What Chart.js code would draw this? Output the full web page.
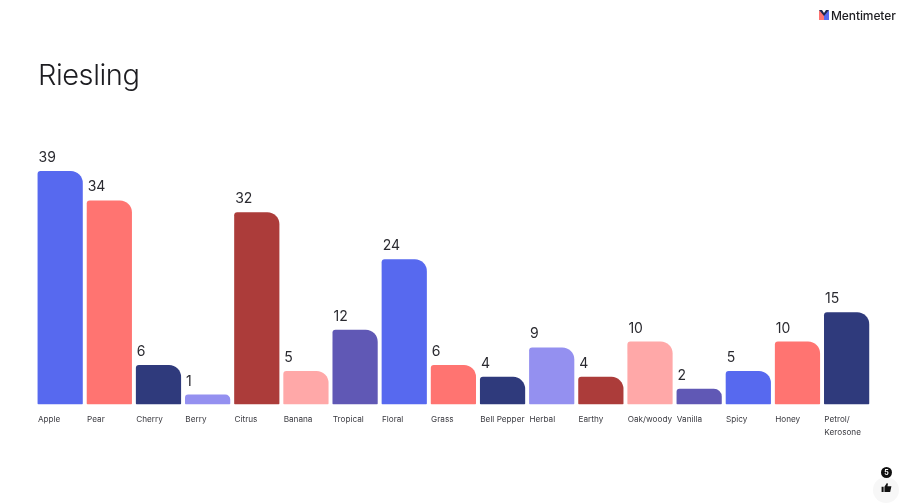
<!DOCTYPE html>
<html>
<head>
<meta charset="utf-8">
<title>Riesling</title>
<script src="https://cdn.jsdelivr.net/npm/chart.js@4/dist/chart.umd.min.js"></script>
<style>
  html, body { margin: 0; padding: 0; background: #fff; width: 906px; height: 504px; overflow: hidden; }
  body { position: relative; font-family: Inter, sans-serif; color: #1d1d21; }
  #wrap { position: absolute; left: 0; top: 0; width: 906px; height: 504px; }
  h1 { position: absolute; left: 38px; top: 56px; margin: 0; font: 300 29px/38px Inter, sans-serif; letter-spacing: -0.45px; }
  #brand { position: absolute; left: 831px; top: 7.5px; font: 500 12px/15px Inter, sans-serif; letter-spacing: -0.1px; }
  #logo { position: absolute; left: 819px; top: 10px; }
  #likes { position: absolute; left: 881px; top: 466.5px; width: 11px; height: 11px; border-radius: 50%; background: #111; color: #fff; font: 700 7px/11px Inter, sans-serif; text-align: center; }
  #thumbBg { position: absolute; left: 873px; top: 477px; width: 26px; height: 26px; border-radius: 50%; background: #f7f7f7; }
  #thumb { position: absolute; left: 881px; top: 483px; }
</style>
</head>
<body>
<div id="wrap"><canvas id="chart"></canvas></div>
<h1>Riesling</h1>
<svg id="logo" width="10" height="10" viewBox="0 0 10 10">
  <path d="M0 0 L5 5 L5 10 L0 10 Z" fill="#ff7471"/>
  <path d="M10 0 L5 5 L5 10 L10 10 Z" fill="#5769ef"/>
  <path d="M0 0 L3 0 L5 3 L7 0 L10 0 L5 6 Z" fill="#1f2550"/>
</svg>
<div id="brand">Mentimeter</div>
<div id="thumbBg"></div>
<div id="likes">5</div>
<svg id="thumb" width="11" height="9" viewBox="0 0 12 11">
  <path d="M0 4.5 H2.5 V11 H0 Z M3.5 4.5 L6.5 0 L7.8 1 L7.2 4 H12 L10.5 11 H3.5 Z" fill="#111"/>
</svg>
<script>
const categories = ['Apple', 'Pear', 'Cherry', 'Berry', 'Citrus', 'Banana', 'Tropical', 'Floral', 'Grass',
  'Bell Pepper', 'Herbal', 'Earthy', 'Oak/woody', 'Vanilla', 'Spicy', 'Honey', ['Petrol/', 'Kerosone']];
const votes = [39, 34, 6, 1, 32, 5, 12, 24, 6, 4, 9, 4, 10, 2, 5, 10, 15];
const palette = ['#5769ef', '#ff7471', '#2f3a7c', '#9490f0', '#ac3c3a', '#ffa8a8', '#6058b5'];

// value labels sit above the left edge of each bar
const valueLabels = {
  id: 'valueLabels',
  afterDatasetsDraw(chart) {
    const ctx = chart.ctx;
    ctx.save();
    ctx.font = '14px Inter, sans-serif';
    ctx.fillStyle = '#2a2a30';
    ctx.textAlign = 'left';
    ctx.textBaseline = 'alphabetic';
    chart.getDatasetMeta(0).data.forEach((bar, i) => {
      ctx.fillText(votes[i], bar.x - bar.width / 2 + 1, bar.y - 9);
    });
    ctx.restore();
  }
};

new Chart(document.getElementById('chart'), {
  type: 'bar',
  data: {
    labels: categories,
    datasets: [{
      data: votes,
      base: -0.7, // bars start a little below zero so a single vote still shows
      backgroundColor: votes.map((v, i) => palette[i % palette.length]),
      borderRadius: { topLeft: 3, topRight: 12, bottomLeft: 1, bottomRight: 1 },
      borderSkipped: false,
      barPercentage: 0.92,
      categoryPercentage: 1
    }]
  },
  options: {
    responsive: true,
    maintainAspectRatio: false,
    animation: false,
    layout: { padding: { left: 35.6, right: 34.8, top: 165.2, bottom: 39.5 } },
    plugins: { legend: { display: false }, tooltip: { enabled: false }, title: { display: false } },
    scales: {
      x: {
        grid: { display: false },
        border: { display: false },
        afterFit(scale) { scale.height = 60; },
        ticks: {
          align: 'start',
          labelOffset: -22.3,
          maxRotation: 0,
          autoSkip: false,
          padding: 1,
          color: '#3a3a40',
          font: { family: 'Inter, sans-serif', size: 8.2, lineHeight: 1.55 }
        }
      },
      y: { display: false, min: -0.7, max: 40 }
    }
  },
  plugins: [valueLabels]
});
</script>
</body>
</html>
